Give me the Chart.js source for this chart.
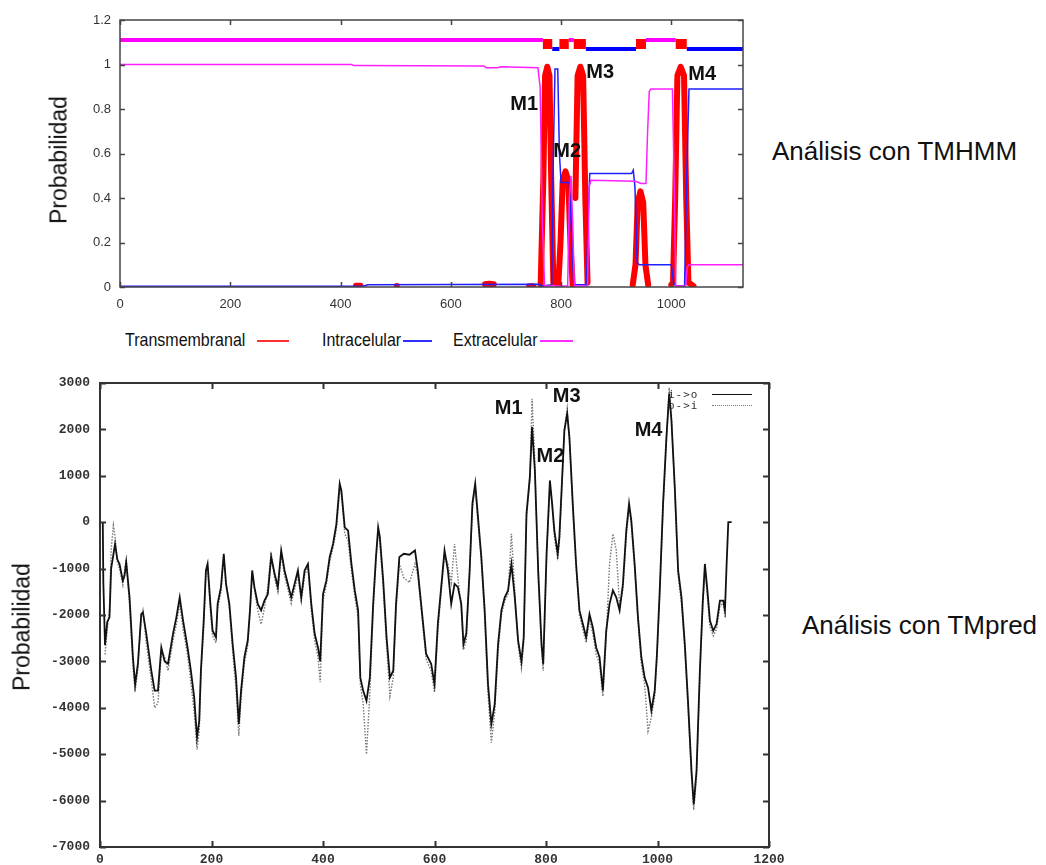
<!DOCTYPE html>
<html>
<head>
<meta charset="utf-8">
<script src="https://cdn.jsdelivr.net/npm/chart.js@4.4.0/dist/chart.umd.min.js"></script>
<style>
body{margin:0;background:#fff;font-family:"Liberation Sans",Arial,sans-serif;}
#page{position:relative;width:1046px;height:865px;overflow:hidden;background:#fff;}
.box{position:absolute;}
.txt{position:absolute;white-space:nowrap;color:#111;}
.ytitle{position:absolute;white-space:nowrap;color:#111;font-size:23px;transform:translate(-50%,-50%) rotate(-90deg);}
.side{font-size:26px;line-height:26px;}
.leg{font-size:16px;line-height:16px;transform:scaleY(1.2);}
.lline{position:absolute;height:2px;}
.mono{position:absolute;font-family:"DejaVu Sans Mono",monospace;font-size:11px;line-height:11px;color:#333;letter-spacing:1px;}
</style>
</head>
<body>
<div id="page">
	<div class="box" style="left:0;top:0;width:760px;height:320px"><canvas id="tmhmm" width="760" height="320"></canvas></div>
	<div class="box" style="left:0;top:360px;width:800px;height:520px"><canvas id="tmpred" width="800" height="520"></canvas></div>

	<div class="ytitle" style="left:59px;top:160px">Probabilidad</div>
	<div class="ytitle" style="left:22px;top:627px">Probabilidad</div>

	<div class="txt side" style="left:772px;top:138px">Análisis con TMHMM</div>
	<div class="txt side" style="left:802px;top:612px">Análisis con TMpred</div>

	<div class="txt leg" style="left:125px;top:332px">Transmembranal</div>
	<div class="lline" style="left:257px;top:340px;width:32px;background:#ff3030"></div>
	<div class="txt leg" style="left:322px;top:332px">Intracelular</div>
	<div class="lline" style="left:403px;top:340px;width:29px;background:#3030ff"></div>
	<div class="txt leg" style="left:453px;top:332px">Extracelular</div>
	<div class="lline" style="left:540px;top:340px;width:33px;background:#ff30ff"></div>

	<div class="mono" style="left:668px;top:389px">i->o</div>
	<div style="position:absolute;left:712px;top:394px;width:40px;height:0;border-top:1.5px solid #111"></div>
	<div class="mono" style="left:668px;top:400px">o->i</div>
	<div style="position:absolute;left:712px;top:405px;width:40px;height:0;border-top:1.5px dotted #777"></div>
</div>
<script>
// ---- TMHMM (arriba) ----
var tmhmmXTicks = [0, 200, 400, 600, 800, 1000];
var tmhmmLength = 1130;

var transX = [0, 420, 428, 436, 444, 495, 502, 509, 655, 662, 670, 678, 686, 735, 742, 750, 758,
	763, 768, 771, 775, 779, 782, 786, 790, 795, 799, 803, 808, 813, 817, 821, 823,
	826, 830, 835, 840, 844, 848, 852, 900, 930, 935, 939, 944, 949, 953, 958, 962,
	1000, 1003, 1007, 1011, 1017, 1023, 1027, 1031, 1040, 1050];
var transY = [null, null, 0.006, 0.006, null, null, 0.004, null, null, 0.012, 0.015, 0.012, null, null, 0.003, 0.003, null,
	0.01, 0.5, 0.95, 0.99, 0.95, 0.5, 0.02, null, 0.01, 0.2, 0.48, 0.52, 0.48, 0.2, 0.01, null,
	0.4, 0.95, 0.99, 0.95, 0.4, 0.02, null, null, 0.01, 0.1, 0.38, 0.43, 0.38, 0.1, 0.01, null,
	0.01, 0.02, 0.4, 0.95, 0.99, 0.95, 0.4, 0.02, 0.005, null];

var intraX = [0, 440, 450, 760, 765, 783, 786, 789, 794, 797, 800, 815, 819, 823, 846, 849, 852,
	928, 931, 934, 938, 942, 1000, 1004, 1008, 1024, 1028, 1032, 1130];
var intraY = [0.003, 0.003, 0.01, 0.012, 0.005, 0.01, 0.6, 0.98, 0.98, 0.6, 0.47, 0.47, 0.25, 0.01, 0.01, 0.3, 0.51,
	0.51, 0.525, 0.45, 0.11, 0.1, 0.1, 0.02, 0.005, 0.005, 0.5, 0.89, 0.89];

var extraX = [0, 420, 424, 660, 665, 685, 690, 758, 762, 766, 770, 812, 815, 818, 821, 824, 848, 851, 854,
	935, 945, 954, 957, 960, 963, 1002, 1005, 1008, 1026, 1029, 1032, 1130];
var extraY = [1.0, 1.0, 0.995, 0.993, 0.985, 0.985, 0.99, 0.985, 0.9, 0.3, 0.005, 0.005, 0.4, 0.5, 0.3, 0.005, 0.005, 0.45, 0.48,
	0.475, 0.465, 0.465, 0.7, 0.88, 0.89, 0.89, 0.5, 0.005, 0.005, 0.09, 0.1, 0.1];

// topologia: fuera / dentro / membrana
var outsideX = [0, 767, 790, 814, 823, 900, 954, 1008];
var outsideY = [1.11, 1.11, null, 1.11, 1.11, null, 1.11, 1.11];
var insideX = [784, 797, 820, 845, 936, 980, 1028, 1130];
var insideY = [1.07, 1.07, null, 1.07, 1.07, null, 1.07, 1.07];
var tmBoxX = [767, 784, 790, 797, 814, 818, 823, 845, 900, 936, 954, 980, 1008, 1028];
var tmBoxY = [1.092, 1.092, null, 1.092, 1.092, null, 1.092, 1.092, null, 1.092, 1.092, null, 1.092, 1.092];

var tmhmmMarks = [
	{text: 'M1', x: 733, y: 0.822},
	{text: 'M2', x: 811, y: 0.611},
	{text: 'M3', x: 871, y: 0.966},
	{text: 'M4', x: 1056, y: 0.957}
];

// ---- TMpred (abajo) ----
var tmpredX = [5,6,9,13,17,20,24,27,31,35,
	41,44,47,53,59,63,68,74,77,83,
	92,98,104,110,116,122,131,137,143,149,
	157,163,169,174,178,181,186,190,193,198,
	202,208,211,217,222,226,232,238,244,249,
	253,259,265,269,273,277,283,289,295,301,
	307,313,319,325,331,337,343,349,355,361,
	367,373,379,385,391,395,400,406,412,418,
	424,430,433,439,445,451,457,463,467,472,
	478,484,490,495,499,502,508,514,520,526,
	531,537,545,555,565,570,576,585,594,600,
	606,612,618,624,630,636,642,648,652,657,
	663,668,673,678,684,690,696,702,708,714,
	720,726,732,738,744,750,756,760,765,771,
	775,780,786,792,795,801,807,811,815,821,
	824,829,833,838,842,848,854,860,866,872,
	878,884,890,896,902,908,914,920,926,932,
	938,944,949,953,959,965,971,977,983,989,
	995,999,1004,1010,1016,1021,1025,1031,1037,1043,
	1049,1055,1061,1065,1070,1076,1081,1085,1089,1094,
	1100,1106,1112,1118,1121,1124,1127,1133];

var tmpredIO = [0,-1300,-2650,-2150,-2050,-1000,-700,-470,-800,-900,
	-1260,-1150,-860,-1620,-2900,-3500,-3050,-1980,-1940,-2400,
	-3200,-3630,-3630,-2700,-3000,-3050,-2400,-2050,-1620,-2120,
	-2700,-3200,-3780,-4640,-4280,-3200,-2120,-1040,-900,-1760,
	-2340,-2480,-1760,-1400,-680,-1330,-1760,-2630,-3350,-4350,
	-3630,-2910,-2550,-1900,-1040,-1400,-1760,-1900,-1690,-1550,
	-750,-1100,-1400,-610,-1040,-1330,-1620,-1330,-1040,-1620,
	-1040,-900,-1760,-2400,-2700,-3000,-1550,-1260,-750,-470,
	-40,830,680,-110,-180,-900,-1470,-1900,-3350,-3630,
	-3850,-3350,-1760,-750,-110,-320,-1260,-2480,-3350,-3200,
	-1760,-750,-680,-700,-610,-1040,-1760,-2840,-3050,-3490,
	-2190,-1400,-610,-1040,-1760,-1330,-1400,-1760,-2630,-2400,
	-1040,400,830,110,-750,-1900,-3490,-4350,-3920,-2630,
	-1900,-1620,-1470,-900,-1620,-2550,-3000,-2480,180,970,
	2050,1120,-1040,-2630,-3060,-680,900,400,-180,-680,
	-320,970,1980,2340,1830,400,-900,-1900,-2190,-2480,
	-1980,-2270,-2700,-2910,-3630,-2340,-1760,-1470,-1620,-1900,
	-1330,-180,400,40,-900,-2050,-2910,-3350,-3560,-4060,
	-3630,-2840,-1470,400,1830,2770,2190,760,-1040,-1620,
	-2630,-3920,-5360,-6080,-5360,-3200,-1760,-900,-1400,-2120,
	-2340,-2190,-1690,-1690,-1900,-900,0,0];

var tmpredOI = [null,null,-2850,-2300,-1900,-600,-70,-300,-850,-1000,
	-1350,-1050,-800,-1800,-3100,-3650,-3150,-2050,-1900,-2600,
	-3400,-4000,-3900,-2800,-2900,-3200,-2550,-2200,-1750,-2300,
	-2850,-3450,-4100,-4900,-4500,-3300,-2300,-1100,-950,-1900,
	-2450,-2600,-1850,-1500,-750,-1250,-1850,-2800,-3600,-4600,
	-3800,-3050,-2650,-2000,-1100,-1450,-1900,-2200,-1850,-1400,
	-650,-1200,-1500,-700,-1150,-1450,-1750,-1450,-1150,-1700,
	-1150,-950,-1900,-2550,-2900,-3450,-1700,-1350,-850,-550,
	-150,700,600,-250,-400,-1050,-1600,-2050,-3500,-3900,
	-5000,-3700,-1900,-850,-200,-450,-1400,-2650,-3750,-3350,
	-1900,-900,-1200,-1300,-900,-1150,-1850,-2950,-3200,-3670,
	-2350,-1500,-700,-900,-1300,-470,-1200,-1850,-2750,-2550,
	-1150,300,750,0,-850,-2050,-3700,-4750,-4100,-2800,
	-2000,-1700,-1550,-250,-1500,-2650,-3150,-2600,100,900,
	2660,1300,-1150,-2750,-3200,-800,800,350,-300,-800,
	-450,850,2000,2450,1750,300,-1000,-2000,-2300,-2600,
	-2100,-2400,-2850,-3050,-3750,-2500,-900,-250,-600,-1800,
	-1450,-300,300,-50,-1000,-2150,-3050,-3500,-4500,-4200,
	-3750,-2950,-1600,300,1750,2900,2300,650,-1150,-1750,
	-2750,-4050,-5500,-6200,-5500,-3350,-1900,-1000,-1550,-2250,
	-2450,-2300,-1800,-1750,-2050,null,null,null];

var tmpredMarks = [
	{text: 'M1', x: 733, y: 2450},
	{text: 'M2', x: 808, y: 1420},
	{text: 'M3', x: 837, y: 2715},
	{text: 'M4', x: 984, y: 1975}
];

function pts(xs, ys){
	return xs.map(function(x, i){ return {x: x, y: ys[i]}; });
}

// marco, marcas hacia dentro y etiquetas M1..M4
var frameTicks = {
	id: 'frameTicks',
	afterDraw: function(chart, args, opts){
		var ctx = chart.ctx, a = chart.chartArea;
		var sx = chart.scales.x, sy = chart.scales.y;
		ctx.save();
		ctx.strokeStyle = opts.color;
		ctx.lineWidth = opts.width;
		ctx.beginPath();
		sx.ticks.forEach(function(t){
			var p = Math.round(sx.getPixelForValue(t.value)) + 0.5;
			ctx.moveTo(p, a.bottom); ctx.lineTo(p, a.bottom - opts.len);
			ctx.moveTo(p, a.top); ctx.lineTo(p, a.top + opts.len);
		});
		sy.ticks.forEach(function(t){
			var p = Math.round(sy.getPixelForValue(t.value)) + 0.5;
			ctx.moveTo(a.left, p); ctx.lineTo(a.left + opts.len, p);
			ctx.moveTo(a.right, p); ctx.lineTo(a.right - opts.len, p);
		});
		ctx.stroke();
		ctx.strokeRect(a.left, a.top, a.right - a.left, a.bottom - a.top);
		ctx.fillStyle = '#111';
		ctx.font = 'bold 20px "Liberation Sans", Arial, sans-serif';
		ctx.textAlign = 'center';
		ctx.textBaseline = 'middle';
		(opts.marks || []).forEach(function(m){
			ctx.fillText(m.text, sx.getPixelForValue(m.x), sy.getPixelForValue(m.y));
		});
		ctx.restore();
	}
};

function lineSet(data, color, width, extra){
	var ds = {data: data, borderColor: color, borderWidth: width, pointRadius: 0,
		fill: false, tension: 0, spanGaps: false};
	for(var k in extra){ ds[k] = extra[k]; }
	return ds;
}

new Chart(document.getElementById('tmhmm').getContext('2d'), {
	type: 'line',
	data: {
		datasets: [
			lineSet(pts(tmBoxX, tmBoxY), '#ff0000', 10, {borderCapStyle: 'butt'}),
			lineSet(pts(outsideX, outsideY), '#ff00ff', 4, {}),
			lineSet(pts(insideX, insideY), '#0000ff', 4, {}),
			lineSet(pts(extraX, extraY), '#ff20ff', 1.5, {}),
			lineSet(pts(intraX, intraY), '#2020ff', 1.5, {}),
			lineSet(pts(transX, transY), '#ff0000', 6, {borderJoinStyle: 'round', borderCapStyle: 'round'})
		]
	},
	options: {
		responsive: false,
		animation: false,
		layout: {padding: {left: 0, top: 20, right: 17, bottom: 0}},
		plugins: {
			legend: {display: false},
			tooltip: {enabled: false},
			frameTicks: {color: '#444', width: 1.5, len: 5, marks: tmhmmMarks}
		},
		scales: {
			x: {
				type: 'linear', min: 0, max: tmhmmLength,
				grid: {display: false, drawTicks: false},
				border: {display: false},
				afterBuildTicks: function(s){ s.ticks = tmhmmXTicks.map(function(v){ return {value: v}; }); },
				afterFit: function(s){ s.height = 33; },
				ticks: {color: '#333', padding: 10, maxRotation: 0, autoSkip: false,
					font: {family: '"Liberation Sans", Arial, sans-serif', size: 13},
					callback: function(v){ return String(v); }}
			},
			y: {
				min: 0, max: 1.2,
				grid: {display: false, drawTicks: false},
				border: {display: false},
				afterFit: function(s){ s.width = 120; },
				ticks: {stepSize: 0.2, color: '#333', padding: 9,
					font: {family: '"Liberation Sans", Arial, sans-serif', size: 13},
					callback: function(v){ return String(Math.round(v * 10) / 10); }}
			}
		}
	},
	plugins: [frameTicks]
});

new Chart(document.getElementById('tmpred').getContext('2d'), {
	type: 'line',
	data: {
		datasets: [
			lineSet(pts(tmpredX, tmpredIO), '#111111', 1.8, {}),
			lineSet(pts(tmpredX, tmpredOI), '#777777', 1.4, {borderDash: [1.5, 1.5]})
		]
	},
	options: {
		responsive: false,
		animation: false,
		layout: {padding: {left: 0, top: 23, right: 31, bottom: 0}},
		plugins: {
			legend: {display: false},
			tooltip: {enabled: false},
			frameTicks: {color: '#333', width: 2, len: 6, marks: tmpredMarks}
		},
		scales: {
			x: {
				type: 'linear', min: 0, max: 1200,
				grid: {display: false, drawTicks: false},
				border: {display: false},
				afterFit: function(s){ s.height = 33; },
				ticks: {stepSize: 200, color: '#333', padding: 5, maxRotation: 0, autoSkip: false,
					font: {family: '"Liberation Mono", monospace', size: 13, weight: 'bold'},
					callback: function(v){ return String(v); }}
			},
			y: {
				min: -7000, max: 3000,
				grid: {display: false, drawTicks: false},
				border: {display: false},
				afterFit: function(s){ s.width = 100; },
				ticks: {stepSize: 1000, color: '#333', padding: 10,
					font: {family: '"Liberation Mono", monospace', size: 13, weight: 'bold'},
					callback: function(v){ return String(v); }}
			}
		}
	},
	plugins: [frameTicks]
});
</script>
</body>
</html>
